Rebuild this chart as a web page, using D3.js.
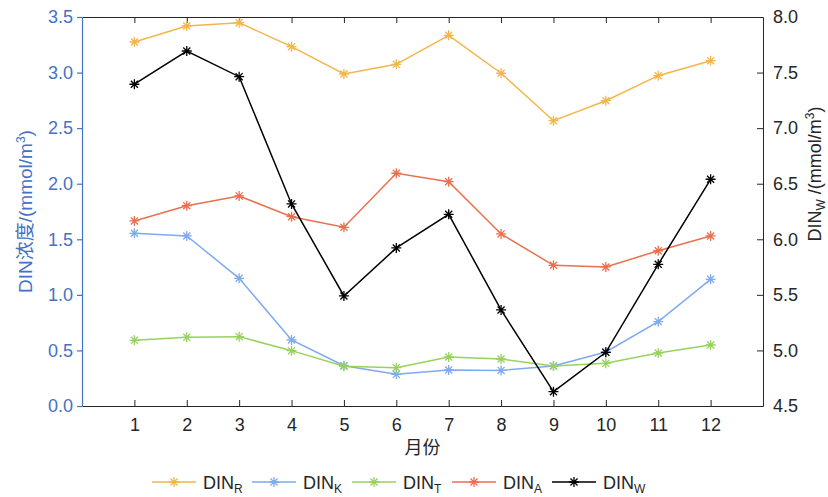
<!DOCTYPE html>
<html>
<head>
<meta charset="utf-8">
<script src="https://cdn.jsdelivr.net/npm/d3@7"></script>
<style>
  body { margin: 0; background: #fff; }
  svg { font-family: "Liberation Sans", Arial, "Noto Sans CJK SC", sans-serif; }
</style>
</head>
<body>
<div class="chart"></div>
<script>
var months = [1, 2, 3, 4, 5, 6, 7, 8, 9, 10, 11, 12];

var dinR = [3.275, 3.419, 3.449, 3.233, 2.987, 3.074, 3.335, 2.994, 2.567, 2.747, 2.972, 3.107];
var dinK = [1.554, 1.530, 1.149, 0.594, 0.363, 0.285, 0.324, 0.320, 0.360, 0.486, 0.759, 1.140];
var dinT = [0.591, 0.618, 0.624, 0.498, 0.357, 0.345, 0.441, 0.423, 0.360, 0.384, 0.477, 0.549];
var dinA = [1.665, 1.802, 1.890, 1.703, 1.608, 2.094, 2.018, 1.548, 1.266, 1.251, 1.397, 1.530];
var dinW = [7.395, 7.694, 7.463, 6.318, 5.490, 5.922, 6.225, 5.364, 4.629, 4.983, 5.775, 6.540];

var seriesNames = ["R", "K", "T", "A", "W"];
var seriesColors = ["#f2b64a", "#7eaaee", "#97d35c", "#e9704f", "#000000"];

var leftTicks = [0, 0.5, 1, 1.5, 2, 2.5, 3, 3.5];
var rightTicks = [4.5, 5, 5.5, 6, 6.5, 7, 7.5, 8];

var width = 828;
var height = 497;
var margin = { top: 17, right: 65, bottom: 91, left: 82 };
var axisBlue = "#4472c4";

var x = d3.scaleLinear().domain([0, 13]).range([margin.left, width - margin.right]);
var yL = d3.scaleLinear().domain([0, 3.5]).range([height - margin.bottom, margin.top]);
var yR = d3.scaleLinear().domain([4.5, 8]).range([height - margin.bottom, margin.top]);

var svg = d3.select(".chart").append("svg")
    .attr("width", width)
    .attr("height", height);

// asterisk marker like matlab '*'
var asterisk = {
    draw: function(context, size) {
        var r = Math.sqrt(size) / 2;
        var d = r * Math.SQRT1_2;
        context.moveTo(-r, 0); context.lineTo(r, 0);
        context.moveTo(0, -r); context.lineTo(0, r);
        context.moveTo(-d, -d); context.lineTo(d, d);
        context.moveTo(-d, d); context.lineTo(d, -d);
    }
};
var marker = d3.symbol().type(asterisk).size(100);

// axes
var xBottom = d3.axisBottom(x).tickValues(months).tickSizeInner(-6).tickSizeOuter(0).tickPadding(12);
var xTop = d3.axisTop(x).tickValues(months).tickSizeInner(-6).tickSizeOuter(0).tickFormat("");
var leftAxis = d3.axisLeft(yL).tickValues(leftTicks).tickFormat(d3.format(".1f")).tickSizeInner(5).tickSizeOuter(0).tickPadding(4);
var rightAxis = d3.axisRight(yR).tickValues(rightTicks).tickFormat(d3.format(".1f")).tickSizeInner(-6).tickSizeOuter(0).tickPadding(10);

var gx = svg.append("g")
    .attr("transform", "translate(0," + (height - margin.bottom) + ")")
    .call(xBottom);
var gxt = svg.append("g")
    .attr("transform", "translate(0," + margin.top + ")")
    .call(xTop);
var gl = svg.append("g")
    .attr("transform", "translate(" + margin.left + ",0)")
    .call(leftAxis);
var gr = svg.append("g")
    .attr("transform", "translate(" + (width - margin.right) + ",0)")
    .call(rightAxis);

[gx, gxt, gr].forEach(function(g) {
    g.selectAll("path, line").attr("stroke", "#262626").attr("stroke-width", 1);
    g.selectAll("text").attr("fill", "#262626").style("font-size", "18px");
});
gl.selectAll("path, line").attr("stroke", axisBlue).attr("stroke-width", 1.2);
gl.selectAll("text").attr("fill", axisBlue).style("font-size", "18px");

// lines and markers
var allSeries = [dinR, dinK, dinT, dinA, dinW];
var line = d3.line().x(function(d, i) { return x(months[i]); });

allSeries.forEach(function(values, s) {
    var y = s === 4 ? yR : yL;
    var g = svg.append("g");
    g.append("path")
        .datum(values)
        .attr("fill", "none")
        .attr("stroke", seriesColors[s])
        .attr("stroke-width", 1.5)
        .attr("d", line.y(function(d) { return y(d); }));
    g.selectAll(".pt")
        .data(values)
        .enter().append("path")
        .attr("class", "pt")
        .attr("transform", function(d, i) { return "translate(" + x(months[i]) + "," + y(d) + ")"; })
        .attr("d", marker)
        .attr("fill", "none")
        .attr("stroke", seriesColors[s])
        .attr("stroke-width", 1.3);
});

// axis titles
svg.append("text")
    .attr("x", (margin.left + width - margin.right) / 2)
    .attr("y", 454)
    .attr("text-anchor", "middle")
    .style("font-size", "18px")
    .attr("fill", "#262626")
    .text("月份");

var lt = svg.append("text")
    .attr("transform", "translate(32," + ((margin.top + height - margin.bottom) / 2) + ") rotate(-90)")
    .attr("text-anchor", "middle")
    .style("font-size", "19px")
    .attr("fill", axisBlue);
lt.append("tspan").text("DIN浓度/(mmol/m");
lt.append("tspan").attr("dy", -7).style("font-size", "12px").text("3");
lt.append("tspan").attr("dy", 7).text(")");

var rt = svg.append("text")
    .attr("transform", "translate(821,174) rotate(-90)")
    .attr("text-anchor", "middle")
    .style("font-size", "18px")
    .attr("fill", "#262626");
rt.append("tspan").text("DIN");
rt.append("tspan").attr("dy", 4).style("font-size", "12px").text("W");
rt.append("tspan").attr("dy", -4).text(" /(mmol/m");
rt.append("tspan").attr("dy", -7).style("font-size", "12px").text("3");
rt.append("tspan").attr("dy", 7).text(")");

// legend
var legend = svg.append("g").attr("transform", "translate(152,482)");
seriesNames.forEach(function(name, s) {
    var item = legend.append("g").attr("transform", "translate(" + (s * 100) + ",0)");
    item.append("line")
        .attr("x1", 0).attr("x2", 44)
        .attr("stroke", seriesColors[s]).attr("stroke-width", 1.5);
    item.append("path")
        .attr("transform", "translate(22,0)")
        .attr("d", marker)
        .attr("fill", "none")
        .attr("stroke", seriesColors[s])
        .attr("stroke-width", 1.3);
    var t = item.append("text")
        .attr("x", 51).attr("y", 7)
        .style("font-size", "18px")
        .attr("fill", "#262626");
    t.append("tspan").text("DIN");
    t.append("tspan").attr("dy", 4).style("font-size", "12px").text(name);
});
</script>
</body>
</html>
